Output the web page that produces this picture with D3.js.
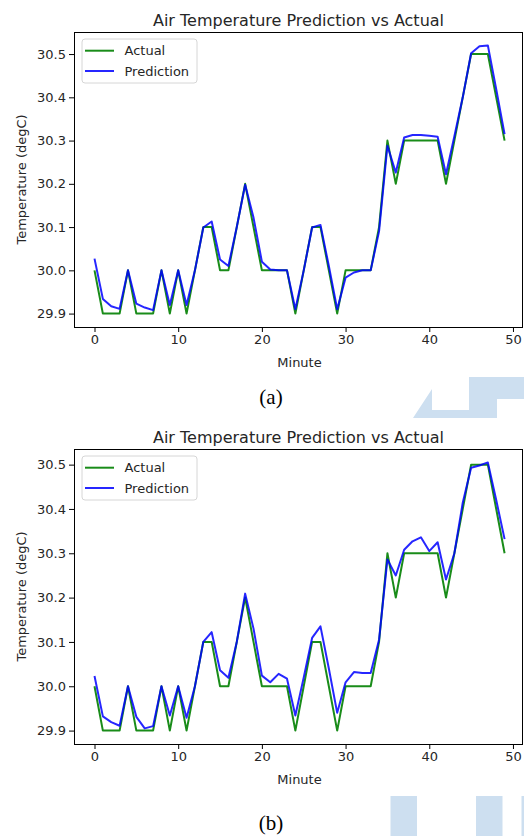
<!DOCTYPE html>
<html>
<head>
<meta charset="utf-8">
<script src="https://cdn.jsdelivr.net/npm/d3@7"></script>
<style>
  html, body { margin: 0; padding: 0; background: #ffffff; }
  svg { display: block; }
</style>
</head>
<body>
<svg id="chart" width="524" height="836"></svg>
<script>
// ---------------- DATA ----------------
const minutes = [0,1,2,3,4,5,6,7,8,9,10,11,12,13,14,15,16,17,18,19,20,21,22,23,24,25,26,27,28,29,30,31,32,33,34,35,36,37,38,39,40,41,42,43,44,45,46,47,48,49];

const actual = [30.0,29.9,29.9,29.9,30.0,29.9,29.9,29.9,30.0,29.9,30.0,29.9,30.0,30.1,30.1,30.0,30.0,30.1,30.2,30.1,
                30.0,30.0,30.0,30.0,29.9,30.0,30.1,30.1,30.0,29.9,30.0,30.0,30.0,30.0,30.1,30.3,30.2,30.3,30.3,30.3,
                30.3,30.3,30.2,30.3,30.4,30.5,30.5,30.5,30.4,30.3];

const predictionA = [30.027,29.934,29.917,29.911,30.0,29.923,29.914,29.908,30.0,29.92,30.0,29.92,30.0,30.099,30.113,30.025,30.01,30.1,30.198,30.122,
                     30.02,30.002,30.0,30.0,29.91,30.0,30.099,30.105,30.01,29.91,29.983,29.995,30.0,30.0,30.09,30.288,30.226,30.307,30.313,30.313,
                     30.311,30.309,30.222,30.31,30.4,30.502,30.518,30.52,30.419,30.315];

const predictionB = [30.023,29.932,29.919,29.911,30.0,29.931,29.905,29.91,30.0,29.934,30.0,29.929,30.0,30.1,30.122,30.036,30.019,30.1,30.209,30.13,
                     30.024,30.009,30.028,30.017,29.934,30.02,30.109,30.135,30.04,29.94,30.009,30.032,30.03,30.03,30.105,30.286,30.25,30.308,30.327,30.336,
                     30.305,30.325,30.241,30.3,30.414,30.493,30.498,30.505,30.42,30.332];

const xTicks = [0,10,20,30,40,50];
const yTicks = [29.9,30.0,30.1,30.2,30.3,30.4,30.5];
const seriesNames = ["Actual","Prediction"];
const seriesColors = ["#008000","#0000ff"];
const chartTitle = "Air Temperature Prediction vs Actual";
const xLabel = "Minute";
const yLabel = "Temperature (degC)";
const captions = ["(a)","(b)"];

// ---------------- DRAW ----------------
const svg = d3.select("#chart");
const FONT = "'DejaVu Sans', sans-serif";
const TXT = "#262626";

function drawChart(top, pred, caption, captionY) {
  const left = 74, right = 523, height = 295;
  const bottom = top + height;
  const g = svg.append("g");

  const all = actual.concat(pred);
  const lo = d3.min(all), hi = d3.max(all);
  const pad = (hi - lo) * 0.05;

  const x = d3.scaleLinear().domain([-2.45, 51.2]).range([left, right]);
  const y = d3.scaleLinear().domain([lo - pad, hi + pad]).range([bottom, top]);

  // lines
  const line = d3.line().x((d, i) => x(minutes[i])).y(d => y(d));
  [actual, pred].forEach((s, k) => {
    g.append("path").datum(s)
      .attr("d", line)
      .attr("fill", "none")
      .attr("stroke", seriesColors[k])
      .attr("stroke-width", 2)
      .attr("stroke-opacity", k === 0 ? 0.9 : 0.85)
      .attr("stroke-linejoin", "round");
  });

  // axes
  const xAxis = d3.axisBottom(x).tickValues(xTicks).tickFormat(d3.format("d")).tickSizeOuter(0).tickSize(5).tickPadding(3);
  const yAxis = d3.axisLeft(y).tickValues(yTicks).tickFormat(d3.format(".1f")).tickSizeOuter(0).tickSize(5).tickPadding(3);

  const gx = g.append("g").attr("transform", `translate(0,${bottom})`).call(xAxis);
  const gy = g.append("g").attr("transform", `translate(${left},0)`).call(yAxis);
  [gx, gy].forEach(a => {
    a.select(".domain").remove();
    a.selectAll("line").attr("stroke", "#000").attr("stroke-width", 1);
    a.selectAll("text").attr("font-family", FONT).attr("font-size", 13).attr("fill", TXT);
  });

  // frame
  g.append("rect")
    .attr("x", left + 0.5).attr("y", top + 0.5)
    .attr("width", right - left - 1).attr("height", height)
    .attr("fill", "none").attr("stroke", "#000").attr("stroke-width", 1);

  // title
  g.append("text")
    .attr("x", (left + right) / 2).attr("y", top - 6.5)
    .attr("text-anchor", "middle")
    .attr("font-family", FONT).attr("font-size", 16).attr("fill", TXT)
    .text(chartTitle);

  // x label
  g.append("text")
    .attr("x", 299.5).attr("y", bottom + 40)
    .attr("text-anchor", "middle")
    .attr("font-family", FONT).attr("font-size", 13).attr("fill", TXT)
    .text(xLabel);

  // y label
  g.append("text")
    .attr("transform", `translate(26,${(top + bottom) / 2}) rotate(-90)`)
    .attr("text-anchor", "middle")
    .attr("font-family", FONT).attr("font-size", 13).attr("fill", TXT)
    .text(yLabel);

  // legend
  const lg = g.append("g").attr("transform", `translate(82,${top + 7})`);
  lg.append("rect")
    .attr("x", 0).attr("y", 0).attr("width", 115).attr("height", 44)
    .attr("rx", 3).attr("fill", "#fff").attr("fill-opacity", 0.8)
    .attr("stroke", "#d6d6d6").attr("stroke-width", 1);
  seriesNames.forEach((name, k) => {
    const yy = 11.7 + k * 20.3;
    lg.append("line")
      .attr("x1", 3).attr("x2", 32).attr("y1", yy).attr("y2", yy)
      .attr("stroke", seriesColors[k]).attr("stroke-width", 2)
      .attr("stroke-opacity", k === 0 ? 0.9 : 0.85);
    lg.append("text")
      .attr("x", 42.5).attr("y", yy).attr("dy", "0.35em")
      .attr("font-family", FONT).attr("font-size", 13).attr("fill", TXT)
      .text(name);
  });

  // caption
  svg.append("text")
    .attr("x", 271).attr("y", captionY)
    .attr("text-anchor", "middle")
    .attr("font-family", "'Liberation Serif', 'Times New Roman', serif")
    .attr("font-size", 21).attr("fill", "#000")
    .text(caption);
}

// watermark shapes (background decoration)
const wm = "#cddff0";
svg.append("path")
  .attr("d", "M413,418 L432,389 L432,410 L469,410 L469,377 L524,377 L524,399 L497,399 L497,418 Z")
  .attr("fill", wm);
svg.append("rect").attr("x", 390.5).attr("y", 796).attr("width", 26.5).attr("height", 40).attr("fill", wm);
svg.append("rect").attr("x", 476).attr("y", 796).attr("width", 26.5).attr("height", 40).attr("fill", wm);
svg.append("rect").attr("x", 521.5).attr("y", 796).attr("width", 3).attr("height", 40).attr("fill", wm);

drawChart(32, predictionA, captions[0], 404);
drawChart(449, predictionB, captions[1], 830);
</script>
</body>
</html>
